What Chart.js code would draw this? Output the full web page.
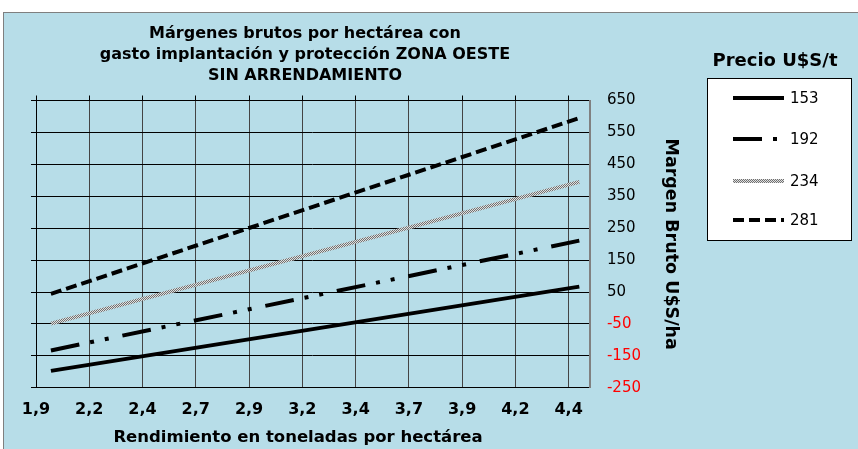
<!DOCTYPE html>
<html>
<head>
<meta charset="utf-8">
<script src="https://cdn.jsdelivr.net/npm/chart.js@4"></script>
<style>
  body { margin:0; background:#fff; font-family:'DejaVu Sans', Verdana, sans-serif; }
  #frame { position:absolute; left:3px; top:12px; width:900px; height:500px;
           background:#b7dde8; border-left:1px solid #7f7f7f; border-top:1px solid #7f7f7f; }
  #wrap { position:absolute; left:0; top:0; width:858px; height:449px; }
  #title { position:absolute; left:0; width:610px; top:22px; text-align:center;
           font-weight:bold; font-size:16px; line-height:21px; color:#000; }
  #xtitle { position:absolute; left:0; width:596px; top:428px; text-align:center;
            font-weight:bold; font-size:16.5px; line-height:18px; color:#000; }
  #legTitle { position:absolute; left:700px; width:150px; top:50px; text-align:center;
              font-weight:bold; font-size:18px; line-height:20px; }
  #legend { position:absolute; left:707px; top:78px; width:143px; height:161px;
            background:#fff; border:1px solid #000; }
  .item { position:absolute; left:25px; height:20px; font-size:15px; line-height:20px; }
  .item canvas { position:absolute; left:0; top:6px; }
  .item span { position:absolute; left:57px; top:0; }
</style>
</head>
<body>
<div id="frame"></div>
<div id="wrap"><canvas id="chart" width="858" height="449"></canvas></div>
<div id="title">Márgenes brutos por hectárea con<br>gasto implantación y protección ZONA OESTE<br>SIN ARRENDAMIENTO</div>
<div id="xtitle">Rendimiento en toneladas por hectárea</div>
<div id="legTitle">Precio U$S/t</div>
<div id="legend"></div>
<script>
// data
const yieldPoints = [1.97, 4.45];
const margin153 = [-197, 67];
const margin192 = [-133, 211];
const margin234 = [-49, 395];
const margin281 = [44, 595];
const priceLabels = ['153', '192', '234', '281'];
const xTickValues = [1.9, 2.15, 2.4, 2.65, 2.9, 3.15, 3.4, 3.65, 3.9, 4.15, 4.4];
const xTickLabels = ['1,9', '2,2', '2,4', '2,7', '2,9', '3,2', '3,4', '3,7', '3,9', '4,2', '4,4'];

const FONT = "'DejaVu Sans', Verdana, sans-serif";

// stippled grey like the excel pattern line
function greyPattern(ctx){
    const t = document.createElement('canvas');
    t.width = 2; t.height = 2;
    const c = t.getContext('2d');
    c.fillStyle = '#e0e0e0'; c.fillRect(0,0,2,2);
    c.fillStyle = '#707070'; c.fillRect(0,0,1,1); c.fillRect(1,1,1,1);
    return ctx.createPattern(t, 'repeat');
}

function pts(ys){ return yieldPoints.map((x,i)=>({x:x, y:ys[i]})); }

const ctx = document.getElementById('chart').getContext('2d');

const styles = [
    {borderColor:'#000', borderWidth:4, borderDash:[]},
    {borderColor:'#000', borderWidth:4, borderDash:[29,11,4,11,4,14]},
    {borderColor:'pattern', borderWidth:4, borderDash:[]},
    {borderColor:'#000', borderWidth:4, borderDash:[11,5]}
];
const series = [margin153, margin192, margin234, margin281];

const datasets = series.map((s,i)=>({
    label: priceLabels[i],
    data: pts(s),
    borderColor: styles[i].borderColor === 'pattern' ? greyPattern(ctx) : styles[i].borderColor,
    borderWidth: styles[i].borderWidth,
    borderDash: styles[i].borderDash,
    borderCapStyle: 'butt',
    pointRadius: 0,
    tension: 0,
    fill: false
}));

function setXTicks(scale){
    scale.ticks = xTickValues.map(v=>({value:v}));
}

new Chart(ctx, {
    type: 'line',
    data: { datasets: datasets },
    options: {
        responsive: false,
        animation: false,
        layout: { padding: { left: 31, right: 177, top: 95.5, bottom: 18 } },
        plugins: { legend: {display:false}, title: {display:false}, tooltip: {enabled:false} },
        scales: {
            x: {
                type: 'linear', position: 'bottom', min: 1.9, max: 4.5,
                afterBuildTicks: setXTicks,
                grid: { color:'#444', lineWidth:1, drawTicks:false },
                border: { display:true, color:'#000', width:1 },
                ticks: {
                    autoSkip:false, maxRotation:0, padding:12, color:'#000',
                    font:{family:FONT, size:16, weight:'bold'},
                    callback: (v, i) => xTickLabels[i]
                }
            },
            xT: {
                type: 'linear', position: 'top', min: 1.9, max: 4.5,
                afterBuildTicks: setXTicks,
                grid: { drawOnChartArea:false, drawTicks:true, tickLength:5, color:'#000' },
                border: { display:true, color:'#000', width:1 },
                ticks: { display:false }
            },
            y: {
                type: 'linear', position: 'right', min: -250, max: 650,
                ticks: {
                    stepSize: 100, padding: 17,
                    font: {family:FONT, size:15},
                    color: c => c.tick && c.tick.value < 0 ? '#ff0000' : '#000'
                },
                grid: { color:'#000', lineWidth:1, drawTicks:false },
                border: { display:true, color:'#808080', width:2 },
                title: {
                    display:true, text:'Margen Bruto U$S/ha', color:'#000',
                    font:{family:FONT, size:17.5, weight:'bold'},
                    padding:{top:0, bottom:2}
                }
            },
            yL: {
                type: 'linear', position: 'left', min: -250, max: 650,
                ticks: { display:false, stepSize:100 },
                grid: { drawOnChartArea:false, drawTicks:true, tickLength:5, color:'#000' },
                border: { display:true, color:'#000', width:1 }
            }
        }
    }
});

// html legend built from the datasets
const legend = document.getElementById('legend');
const rowTops = [9, 50, 92, 131];
datasets.forEach((ds, i) => {
    const row = document.createElement('div');
    row.className = 'item';
    row.style.top = rowTops[i] + 'px';
    const cv = document.createElement('canvas');
    cv.width = 51; cv.height = 8;
    const c = cv.getContext('2d');
    c.strokeStyle = styles[i].borderColor === 'pattern' ? greyPattern(c) : ds.borderColor;
    c.lineWidth = ds.borderWidth;
    c.setLineDash(ds.borderDash);
    c.beginPath(); c.moveTo(0,4); c.lineTo(51,4); c.stroke();
    const sp = document.createElement('span');
    sp.textContent = ds.label;
    row.appendChild(cv); row.appendChild(sp);
    legend.appendChild(row);
});
</script>
</body>
</html>
